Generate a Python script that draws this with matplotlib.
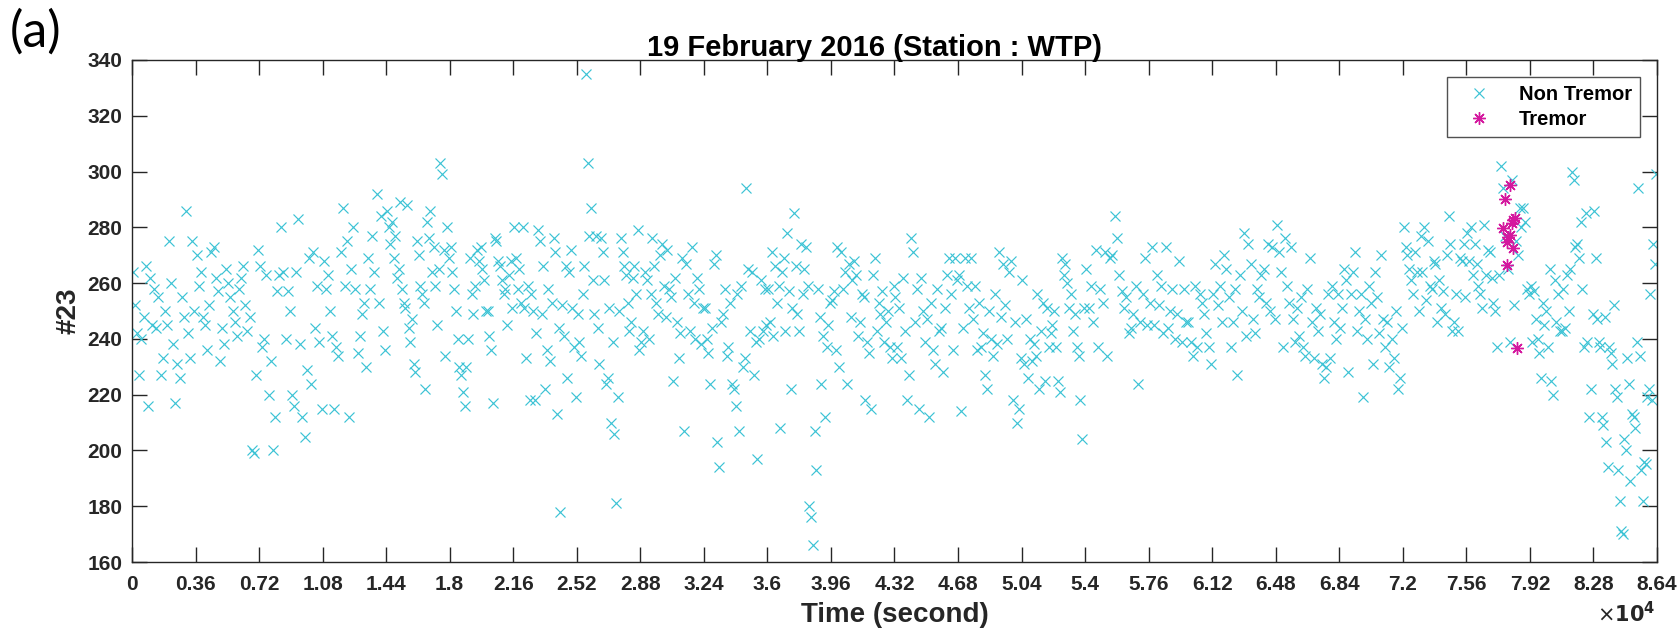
import matplotlib
matplotlib.use("Agg")
import matplotlib.pyplot as plt

# non tremor values, one list per 3600 s bin (left to right)
nontremor_bins = [
    [264, 252, 242, 227, 240, 248, 266, 216, 262, 245, 258, 244, 255, 227, 233,
     250, 245, 275, 260, 238, 217, 231, 226, 255, 248, 286, 242, 233, 275, 250],
    [270, 259, 264, 248, 245, 236, 252, 271, 273, 262, 257, 232, 244, 238, 265,
     260, 255, 250, 246, 241, 258, 262, 266, 252, 243, 248, 200, 199, 227, 272],
    [266, 237, 240, 263, 220, 232, 200, 212, 257, 263, 280, 264, 240, 257, 250,
     220, 216, 264, 283, 238, 212, 205, 229, 269, 224, 271, 244, 259, 239, 215],
    [268, 258, 263, 250, 241, 215, 237, 234, 271, 287, 259, 275, 212, 265, 280,
     258, 235, 241, 249, 253, 230, 269, 258, 277, 264, 292, 253, 284, 243, 236],
    [286, 280, 274, 282, 269, 277, 262, 265, 289, 258, 253, 251, 288, 244, 239,
     247, 231, 228, 275, 270, 259, 256, 253, 222, 282, 276, 286, 264, 273, 259,
     245, 265, 303, 299, 272, 234, 280, 269],
    [273, 264, 258, 250, 240, 230, 227, 221, 216, 230, 240, 269, 256, 249, 259,
     272, 268, 273, 265, 261, 250, 250, 241, 236, 217, 276, 275, 268, 266, 261,
     256, 258, 245, 263, 268, 251],
    [280, 269, 258, 265, 253, 280, 251, 233, 259, 218, 256, 250, 218, 242, 279,
     275, 249, 266, 222, 236, 258, 232, 253, 276, 271, 213, 244, 178, 252, 241,
     266, 226, 264, 272, 251, 237, 219],
    [249, 239, 234, 256, 266, 335, 303, 277, 287, 261, 249, 277, 244, 231, 276,
     271, 261, 224, 226, 251, 210, 239, 206, 181, 219, 250, 276, 271, 266, 263,
     253, 243, 246, 262, 266, 256, 279, 236],
    [239, 243, 264, 261, 240, 256, 276, 266, 253, 249, 270, 274, 259, 248, 272,
     258, 255, 225, 262, 246, 233, 242, 269, 207, 267, 256, 243, 273, 253, 240,
     262, 258, 238, 251],
    [251, 240, 235, 224, 244, 267, 270, 203, 194, 246, 249, 258, 234, 237, 253,
     224, 222, 216, 256, 207, 259, 230, 233, 294, 265, 243, 264, 227, 239, 197,
     240, 261, 243, 258, 245],
    [258, 246, 271, 241, 266, 253, 259, 208, 264, 269, 243, 278, 257, 222, 251,
     285, 266, 249, 243, 274, 256, 265, 273, 259, 180, 176, 166, 207, 193, 258,
     248, 224, 241, 212, 237, 245, 253],
    [254, 257, 236, 273, 230, 271, 258, 264, 224, 267, 248, 261, 268, 263, 241,
     246, 256, 255, 218, 239, 235, 215, 263, 269, 243, 253, 249, 257, 239, 246,
     250, 237, 233, 259],
    [255, 237, 251, 233, 262, 243, 218, 227, 276, 271, 246, 258, 215, 262, 250,
     239, 247, 212, 253, 236, 231, 258, 243, 244, 228, 251, 263, 269, 256, 236,
     269, 261],
    [263, 214, 244, 269, 259, 251, 269, 247, 259, 236, 253, 237, 242, 227, 222,
     250, 240, 234, 256, 238, 271, 248, 267, 252, 240, 264, 268, 218, 246, 210,
     215, 233],
    [261, 231, 247, 226, 240, 232, 238, 234, 256, 222, 243, 253, 225, 251, 237,
     242, 245, 250, 237, 225, 221, 269, 263, 267, 260, 251, 256, 243, 249, 237,
     234, 218, 204, 251],
    [265, 251, 259, 246, 272, 237, 258, 253, 271, 234, 269, 270, 284, 276, 263,
     257, 251, 255, 242, 244, 249, 259, 224, 246, 256, 269, 245],
    [253, 273, 245, 263, 252, 259, 242, 273, 244, 250, 258, 240, 249, 268, 239,
     258, 246, 246, 239, 234, 259, 237, 256, 253, 249, 242, 237, 231],
    [256, 267, 252, 259, 246, 270, 265, 255, 237, 246, 258, 227, 263, 250, 278,
     241, 274, 267, 247, 242, 258, 255, 263, 265, 253, 274, 250, 273, 247],
    [281, 271, 264, 237, 276, 259, 253, 273, 247, 239, 251, 241, 255, 237, 234,
     258, 269, 246, 233, 251, 243, 249, 231, 226, 230, 256, 233, 259, 246, 240,
     256],
    [244, 251, 265, 261, 228, 256, 264, 271, 243, 250, 256, 219, 247, 240, 259,
     253, 231, 264, 255, 242, 270, 247, 237, 246, 230, 240, 233, 250, 222, 226,
     244],
    [280, 273, 270, 265, 261, 256, 271, 264, 250, 277, 264, 280, 254, 275, 259,
     258, 268, 267, 246, 261, 251, 257, 249, 270, 284, 274, 243, 246, 256, 243,
     269, 268, 274, 255],
    [278, 268, 280, 263, 274, 267, 259, 256, 251, 281, 263, 272, 271, 262, 253,
     250, 237, 263, 302, 294, 277, 276, 265, 239, 297, 252, 275, 270, 287, 280,
     287, 282, 258, 256],
    [259, 239, 257, 247, 240, 235, 226, 253, 245, 250, 237, 265, 225, 220, 261,
     246, 256, 243, 243, 258, 244, 263, 250, 265, 300, 297, 273, 274, 269, 282,
     258, 237, 285, 239, 212, 222, 249],
    [286, 269, 247, 239, 237, 212, 209, 248, 203, 194, 237, 235, 231, 252, 222,
     219, 193, 182, 171, 170, 204, 200, 233, 224, 189, 213, 212, 208, 239, 294,
     234, 193, 182, 196, 195, 219, 222, 256, 218, 274, 267, 299],
]

tremor_t = [77690, 77790, 77880, 77920, 77980, 78070, 78080, 78170, 78260, 78270, 78360, 78490]
tremor_y = [279.7, 290.2, 274.9, 266.5, 276.7, 295.2, 277.3, 281.5, 282.7, 272.5, 283.3, 236.7]

bin_width = 3600
xticks = [i * 3600 for i in range(25)]
yticks = list(range(160, 341, 20))

# spread each bin's samples over its hour
nt_t = []
nt_y = []
for k, vals in enumerate(nontremor_bins):
    n = len(vals)
    for i, v in enumerate(vals):
        nt_t.append(k * bin_width + (i + 0.5) * bin_width / n)
        nt_y.append(v)

plt.rcParams['font.family'] = ['Liberation Sans', 'DejaVu Sans']
fig = plt.figure(figsize=(16.81, 6.28), dpi=100)
ax = fig.add_axes([0.0785, 0.105, 0.9072, 0.7995])

cyan = '#3cc3d5'
mag = '#d4189e'
ax.plot(nt_t, nt_y, linestyle='none', marker='x', color=cyan, markersize=7.5,
        markeredgewidth=0.85, label='Non Tremor')
ax.plot(tremor_t, tremor_y, linestyle='none', marker=(8, 2, 0), color=mag,
        markersize=9, markeredgewidth=1.0, label='Tremor')

ax.set_xlim(0, 86400)
ax.set_ylim(160, 340)
ax.set_xticks(xticks)
ax.set_xticklabels([f"{t / 1e4:g}" for t in xticks])
ax.set_yticks(yticks)
ax.tick_params(direction='in', length=11, width=1, top=True, right=True,
               labelsize=15, colors='#262626')
ax.tick_params(axis='x', pad=9)
ax.tick_params(axis='y', pad=7)
for lab in ax.get_xticklabels() + ax.get_yticklabels():
    lab.set_fontweight('bold')
for s in ax.spines.values():
    s.set_color('#262626')
    s.set_linewidth(1)

ax.set_title('19 February 2016 (Station : WTP)', fontsize=21, fontweight='bold',
             pad=3, x=0.487)
ax.set_xlabel('Time (second)', fontsize=20, fontweight='bold', labelpad=6, color='#262626')
ax.set_ylabel('#23', fontsize=20, fontweight='bold', labelpad=4, color='#262626')
fig.text(0.9845, 0.01, r'$\times\mathbf{10^4}$', ha='right', va='baseline',
         fontsize=15, color='#262626')

leg = ax.legend(loc='upper right', fontsize=14.5, frameon=True, fancybox=False,
                borderpad=0.4, handlelength=2.4, handletextpad=0.75,
                labelspacing=0.3, borderaxespad=0, bbox_to_anchor=(0.9887, 0.966))
leg.get_frame().set_edgecolor('#262626')
leg.get_frame().set_linewidth(1)
for t in leg.get_texts():
    t.set_fontweight('bold')

fig.text(0.006, 0.985, '(a)', fontsize=36, family='Lato', va='top', ha='left')

fig.savefig('out.png', dpi=100)
